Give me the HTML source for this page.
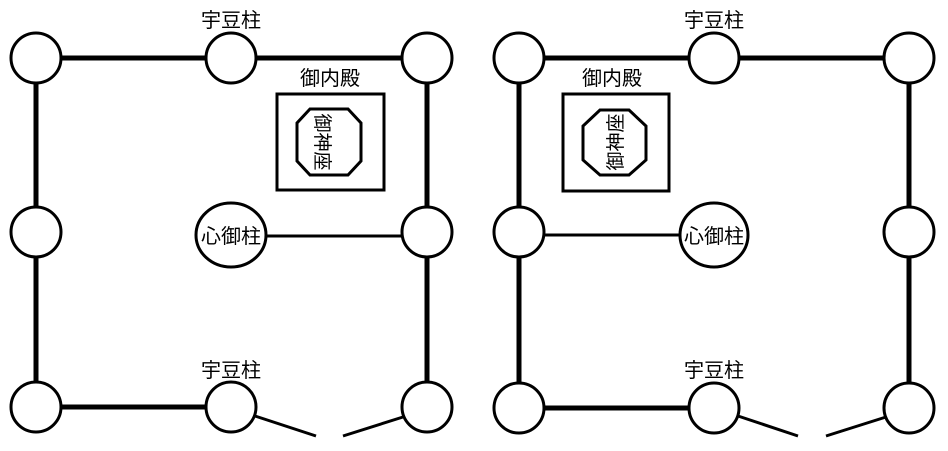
<!DOCTYPE html>
<html><head><meta charset="utf-8"><style>
html,body{margin:0;padding:0;background:#fff;}
svg{display:block;}
text{font-family:"Liberation Sans","Noto Sans CJK JP",sans-serif;font-size:20px;fill:#000;}
</style></head><body>
<svg width="948" height="451" viewBox="0 0 948 451" xmlns="http://www.w3.org/2000/svg">
<g stroke="#000" fill="none">
<g stroke-width="5">
<line x1="36" y1="58" x2="231" y2="58"/>
<line x1="231" y1="58" x2="427" y2="58"/>
<line x1="36" y1="58" x2="36" y2="407"/>
<line x1="427" y1="58" x2="427" y2="407"/>
<line x1="36" y1="407" x2="231" y2="407"/>
</g>
<g stroke-width="3">
<line x1="234" y1="236" x2="427" y2="236"/>
<line x1="255" y1="416" x2="316" y2="436"/>
<line x1="343" y1="436" x2="403" y2="417"/>
</g>
<g stroke-width="3" fill="#fff">
<circle cx="36" cy="58" r="25"/><circle cx="231" cy="58" r="25"/><circle cx="427" cy="58" r="25"/>
<circle cx="36" cy="232" r="25"/><circle cx="427" cy="232" r="25"/>
<circle cx="36" cy="407" r="25"/><circle cx="231" cy="407" r="25"/><circle cx="427" cy="407" r="25"/>
<ellipse cx="231" cy="235" rx="35" ry="32"/>
<rect x="277" y="94" width="107" height="96"/>
<polygon points="310,109 348,109 361,123 361,161 348,175 310,175 297,161 297,123"/>
</g>
<g stroke-width="5">
<line x1="519" y1="58" x2="714" y2="58"/>
<line x1="714" y1="58" x2="909" y2="58"/>
<line x1="519" y1="58" x2="519" y2="408"/>
<line x1="909" y1="58" x2="909" y2="408"/>
<line x1="519" y1="408" x2="714" y2="408"/>
</g>
<g stroke-width="3">
<line x1="519" y1="235" x2="714" y2="235"/>
<line x1="738" y1="416" x2="798" y2="436"/>
<line x1="826" y1="436" x2="886" y2="417"/>
</g>
<g stroke-width="3" fill="#fff">
<circle cx="519" cy="58" r="25"/><circle cx="714" cy="58" r="25"/><circle cx="909" cy="58" r="25"/>
<circle cx="519" cy="232" r="25"/><circle cx="909" cy="232" r="25"/>
<circle cx="519" cy="408" r="25"/><circle cx="714" cy="408" r="25"/><circle cx="909" cy="408" r="25"/>
<ellipse cx="714" cy="235" rx="34" ry="32"/>
<rect x="563" y="94" width="106" height="97"/>
<polygon points="600,110 629,110 646,126 646,160 629,175 600,175 583,160 583,126"/>
</g>
</g>
<text x="231" y="27" text-anchor="middle">宇豆柱</text>
<text x="231" y="377" text-anchor="middle">宇豆柱</text>
<text x="330" y="85" text-anchor="middle">御内殿</text>
<text x="231" y="243" text-anchor="middle">心御柱</text>
<text transform="translate(322,142) rotate(90)" text-anchor="middle" y="6" style="font-size:19px">御神座</text>
<text x="714" y="27" text-anchor="middle">宇豆柱</text>
<text x="714" y="377" text-anchor="middle">宇豆柱</text>
<text x="612" y="85" text-anchor="middle">御内殿</text>
<text x="714" y="243" text-anchor="middle">心御柱</text>
<text transform="translate(616,142) rotate(-90)" text-anchor="middle" y="6" style="font-size:19px">御神座</text>
</svg>
</body></html>
